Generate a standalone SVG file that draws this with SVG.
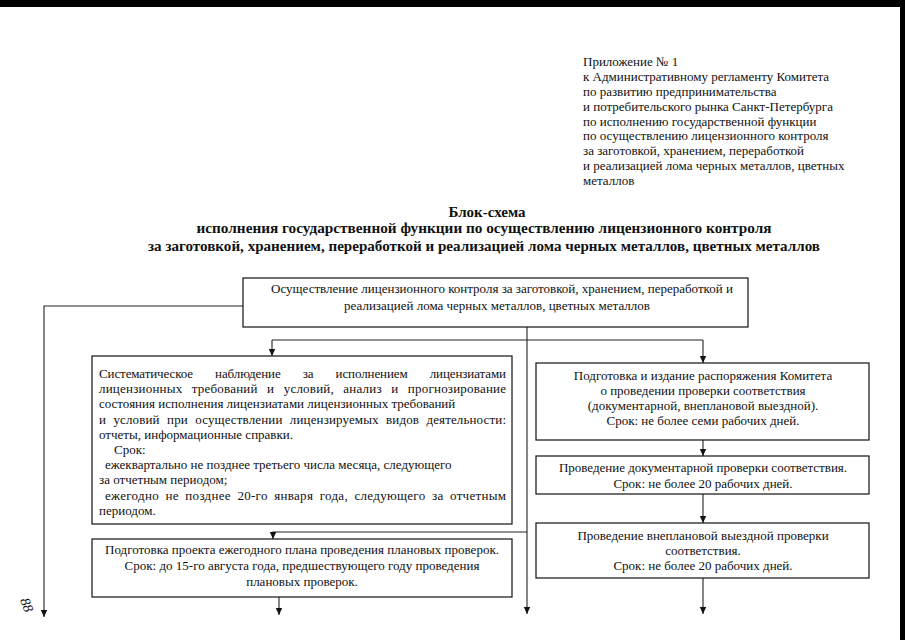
<svg xmlns="http://www.w3.org/2000/svg" width="905" height="640" viewBox="0 0 905 640">
<style>
text{font-family:"Liberation Serif","Times New Roman",serif;font-size:13px;fill:#111}
.c{text-anchor:middle}
.t{font-weight:bold;font-size:15px;text-anchor:middle}
.box{fill:#fff;stroke:#111;stroke-width:1.2}
.ln{fill:none;stroke:#222;stroke-width:1.1}
</style>
<defs>
<marker id="ar" markerUnits="userSpaceOnUse" markerWidth="8" markerHeight="8" refX="7" refY="4" orient="auto">
<path d="M0,0.8 L7,4 L0,7.2 z" fill="#111"/>
</marker>
</defs>
<rect x="0" y="0" width="905" height="7" fill="#000"/>
<rect x="900" y="0" width="5" height="640" fill="#000"/>

<g id="header">
<text x="583" y="66">Приложение № 1</text>
<text x="583" y="81">к Административному регламенту Комитета</text>
<text x="583" y="96">по развитию предпринимательства</text>
<text x="583" y="111">и потребительского рынка Санкт-Петербурга</text>
<text x="583" y="126">по исполнению государственной функции</text>
<text x="583" y="140">по осуществлению лицензионного контроля</text>
<text x="583" y="155">за заготовкой, хранением, переработкой</text>
<text x="583" y="170">и реализацией лома черных металлов, цветных</text>
<text x="583" y="185">металлов</text>
</g>

<g id="title">
<text class="t" x="487" y="217">Блок-схема</text>
<text class="t" x="484" y="233" textLength="575" lengthAdjust="spacingAndGlyphs">исполнения государственной функции по осуществлению лицензионного контроля</text>
<text class="t" x="484" y="251" textLength="672" lengthAdjust="spacingAndGlyphs">за заготовкой, хранением, переработкой и реализацией лома черных металлов, цветных металлов</text>
</g>

<g id="connectors">
<path class="ln" d="M243,306 H44 V617" marker-end="url(#ar)"/>
<path class="ln" d="M527,327 V614" marker-end="url(#ar)"/>
<path class="ln" d="M272,340 H703"/>
<path class="ln" d="M272,340 V356" marker-end="url(#ar)"/>
<path class="ln" d="M703,340 V363" marker-end="url(#ar)"/>
<path class="ln" d="M703,440 V456" marker-end="url(#ar)"/>
<path class="ln" d="M703,494 V523" marker-end="url(#ar)"/>
<path class="ln" d="M703,578 V614" marker-end="url(#ar)"/>
<path class="ln" d="M527,532 H273 V539" marker-end="url(#ar)"/>
<path class="ln" d="M279,597 V615" marker-end="url(#ar)"/>
</g>

<g id="n-top">
<rect class="box" x="243" y="278" width="505" height="49"/>
<text class="c" x="502" y="293">Осуществление лицензионного контроля за заготовкой, хранением, переработкой и</text>
<text class="c" x="497" y="310">реализацией лома черных металлов, цветных металлов</text>
</g>

<g id="n-monitor">
<rect class="box" x="92" y="356" width="420" height="168"/>
<text x="99" y="378" style="word-spacing:19px" textLength="407" lengthAdjust="spacing">Систематическое наблюдение за исполнением лицензиатами</text>
<text x="99" y="393" style="word-spacing:6px" textLength="407" lengthAdjust="spacing">лицензионных требований и условий, анализ и прогнозирование</text>
<text x="99" y="408">состояния исполнения лицензиатами лицензионных требований</text>
<text x="99" y="424" style="word-spacing:4px" textLength="407" lengthAdjust="spacing">и условий при осуществлении лицензируемых видов деятельности:</text>
<text x="99" y="439">отчеты, информационные справки.</text>
<text x="114" y="454">Срок:</text>
<text x="105" y="469">ежеквартально не позднее третьего числа месяца, следующего</text>
<text x="99" y="484">за отчетным периодом;</text>
<text x="105" y="500" style="word-spacing:3px" textLength="401" lengthAdjust="spacing">ежегодно не позднее 20-го января года, следующего за отчетным</text>
<text x="99" y="515">периодом.</text>
</g>

<g id="n-plan">
<rect class="box" x="92" y="539" width="420" height="58"/>
<text class="c" x="302" y="554">Подготовка проекта ежегодного плана проведения плановых проверок.</text>
<text class="c" x="302" y="570">Срок: до 15-го августа года, предшествующего году проведения</text>
<text class="c" x="302" y="586">плановых проверок.</text>
</g>

<g id="n-order">
<rect class="box" x="536" y="363" width="333" height="77"/>
<text class="c" x="703" y="380">Подготовка и издание распоряжения Комитета</text>
<text class="c" x="703" y="395">о проведении проверки соответствия</text>
<text class="c" x="703" y="410">(документарной, внеплановой выездной).</text>
<text class="c" x="703" y="425">Срок: не более семи рабочих дней.</text>
</g>

<g id="n-doc">
<rect class="box" x="536" y="456" width="333" height="38"/>
<text class="c" x="703" y="472">Проведение документарной проверки соответствия.</text>
<text class="c" x="703" y="488">Срок: не более 20 рабочих дней.</text>
</g>

<g id="n-field">
<rect class="box" x="536" y="523" width="333" height="55"/>
<text class="c" x="703" y="540">Проведение внеплановой выездной проверки</text>
<text class="c" x="703" y="555">соответствия.</text>
<text class="c" x="703" y="570">Срок: не более 20 рабочих дней.</text>
</g>

<text x="20" y="600" transform="rotate(70 20 600)" style="font-size:14px;font-style:italic">88</text>
</svg>
